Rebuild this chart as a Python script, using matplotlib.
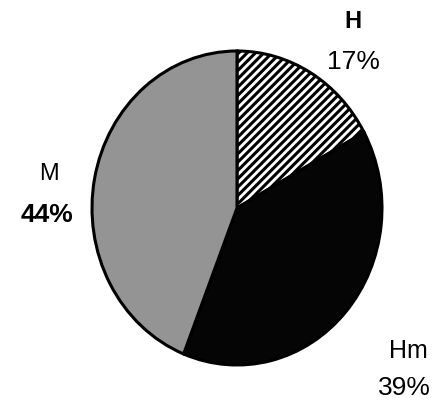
import matplotlib
matplotlib.use("Agg")
import matplotlib.pyplot as plt

# Share of each class
labels = ["H", "Hm", "M"]
shares = [17, 39, 44]
pct_labels = ["17%", "39%", "44%"]

W, H = 433, 404
DPI = 100
plt.rcParams["font.family"] = ["Liberation Sans", "DejaVu Sans"]
plt.rcParams["hatch.linewidth"] = 2.2

fig = plt.figure(figsize=(W / DPI, H / DPI), dpi=DPI)
ax = fig.add_axes([0, 0, 1, 1])

# pie centre and radii in pixels (slightly taller than wide)
cx, cy, rx, ry = 237, 208, 145, 157
sy = rx / ry

wedges, _ = ax.pie(
    shares,
    startangle=90,
    counterclock=False,
    center=(cx, (H - cy) * sy),
    radius=rx,
    colors=["white", "#050505", "#949494"],
    wedgeprops=dict(edgecolor="black", linewidth=2.2),
    frame=True,
)
wedges[0].set_hatch("////")
ax.set_aspect("auto")
ax.set_xlim(0, W)
ax.set_ylim(0, H * sy)
ax.axis("off")


def put(x, y, s, size, weight="normal"):
    fig.text(x / W, 1 - y / H, s, ha="center", va="center",
             fontsize=size, fontweight=weight, color="black")


put(353, 22, labels[0], 17, "bold")
put(353, 62, pct_labels[0], 19)
put(408, 351, labels[1], 18)
put(404, 388, pct_labels[1], 19)
put(49, 174, labels[2], 17)
put(47, 215, pct_labels[2], 19, "bold")

fig.savefig("out.png", dpi=DPI)
